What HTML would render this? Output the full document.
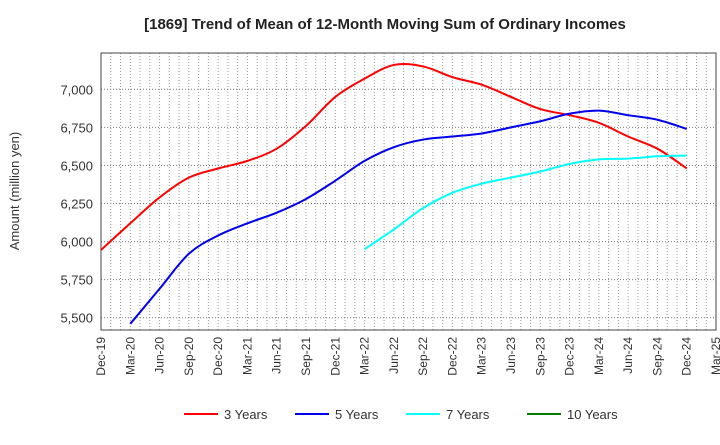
<!DOCTYPE html>
<html><head><meta charset="utf-8"><style>
body{margin:0;background:#fff;font-family:"Liberation Sans",sans-serif}
svg text{font-family:"Liberation Sans",sans-serif}
</style></head><body>
<svg id="chart" width="720" height="440" xmlns="http://www.w3.org/2000/svg">
<text x="385" y="29" text-anchor="middle" font-size="15" font-weight="bold" fill="#222">[1869]  Trend of Mean of 12-Month Moving Sum of Ordinary Incomes</text>
<text transform="translate(19,191) rotate(-90)" text-anchor="middle" font-size="13" fill="#333">Amount (million yen)</text>
<g id="grid"></g><g id="axes"></g><g id="series"></g><g id="legend"></g>
</svg>
<script>
const xLabels=["Dec-19","Mar-20","Jun-20","Sep-20","Dec-20","Mar-21","Jun-21","Sep-21","Dec-21","Mar-22","Jun-22","Sep-22","Dec-22","Mar-23","Jun-23","Sep-23","Dec-23","Mar-24","Jun-24","Sep-24","Dec-24","Mar-25"];
const yTicks=[5500,5750,6000,6250,6500,6750,7000];
const s3=[5945,6120,6290,6420,6480,6530,6610,6760,6950,7070,7160,7150,7080,7030,6950,6870,6830,6780,6690,6610,6480];
const s5=[null,5460,5690,5920,6040,6120,6190,6280,6400,6530,6620,6670,6690,6710,6750,6790,6840,6860,6830,6800,6740];
const s7=[null,null,null,null,null,null,null,null,null,5950,6080,6220,6320,6380,6420,6460,6510,6540,6545,6560,6565];
const s10=[];
const L=101,R=716,T=53,B=330;
const NS="http://www.w3.org/2000/svg";
const xq=i=>L+(R-L)*i/21;
const yv=v=>89.3+(7000-v)/250*38.07;
function mk(tag,attrs,parent){const e=document.createElementNS(NS,tag);for(const k in attrs)e.setAttribute(k,attrs[k]);document.getElementById(parent).appendChild(e);return e;}
for(let m=1;m<63;m++){const x=L+(R-L)*m/63;
const g=mk('line',{x1:x,x2:x,y1:T,y2:B,stroke:'#999','stroke-dasharray':'1,2','stroke-width':1},'grid');

}
yTicks.forEach(v=>{const y=yv(v);
const g=mk('line',{x1:L,x2:R,y1:y,y2:y,stroke:'#777','stroke-dasharray':'1,2'},'grid');


const t=mk('text',{x:L-8,y:y+5,'text-anchor':'end','font-size':13,fill:'#333'},'axes');t.textContent=v.toLocaleString('en-US');

});
const fr=mk('rect',{x:L,y:T,width:R-L,height:B-T,fill:'none',stroke:'#444'},'axes');


xLabels.forEach((l,i)=>{const x=xq(i);
const t=mk('text',{transform:`translate(${x+4},${B+7}) rotate(-90)`,'text-anchor':'end','font-size':12,fill:'#333'},'axes');t.textContent=l;

});
function path(arr){const p=[];arr.forEach((v,i)=>{if(v!=null)p.push([xq(i),yv(v)]);});if(p.length<2)return '';
let d=`M${p[0][0]},${p[0][1]}`;
for(let i=0;i<p.length-1;i++){const p0=p[i-1]||p[i],p1=p[i],p2=p[i+1],p3=p[i+2]||p2;
d+=` C${p1[0]+(p2[0]-p0[0])/6},${p1[1]+(p2[1]-p0[1])/6} ${p2[0]-(p3[0]-p1[0])/6},${p2[1]-(p3[1]-p1[1])/6} ${p2[0]},${p2[1]}`;}
return d;}
const series=[[s3,'#ff0000','3 Years','series-3-years'],[s5,'#0000ee','5 Years','series-5-years'],[s7,'#00ffff','7 Years','series-7-years'],[s10,'#008000','10 Years','series-10-years']];
series.forEach(([a,c,n,id])=>{const d=path(a);if(d){const e=mk('path',{d:d,fill:'none',stroke:c,'stroke-width':2},'series');

}});
const lx=[184,295,406,527];
series.forEach(([a,c,n],i)=>{const x=lx[i];
const l=mk('line',{x1:x,x2:x+34,y1:414,y2:414,stroke:c,'stroke-width':2},'legend');


const t=mk('text',{x:x+40,y:419,'font-size':13,fill:'#333'},'legend');t.textContent=n;

});
</script>
</body></html>
